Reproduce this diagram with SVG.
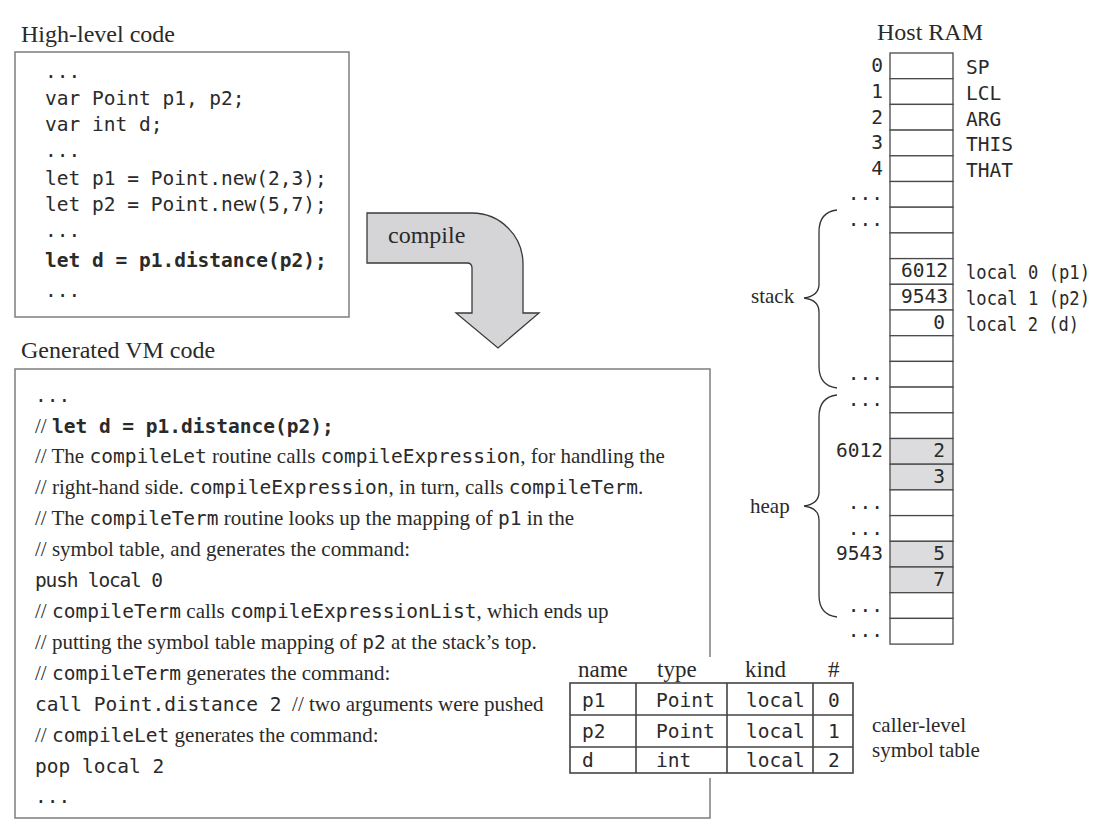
<svg xmlns="http://www.w3.org/2000/svg" width="1112" height="837" viewBox="0 0 1112 837">
<style>
.ser{font-family:"Liberation Serif","Times New Roman",serif;fill:#2a2a2a}
.t24{font-size:24px}
.t21{font-size:21px}
.mono{font-family:"DejaVu Sans Mono","Liberation Mono",monospace;fill:#2a2a2a}
.m19{font-size:19.5px}
.m{font-family:"DejaVu Sans Mono","Liberation Mono",monospace;font-size:19.5px}
.b{font-weight:bold}
.box{fill:#fff;stroke:#858585;stroke-width:1.6}
.cell{fill:#fff;stroke:#4a4a4a;stroke-width:1.3}
.gcell{fill:#dcdcde;stroke:#4a4a4a;stroke-width:1.3}
.brace{fill:none;stroke:#333;stroke-width:1.3}
.tab{fill:none;stroke:#444;stroke-width:1.6}
.r{text-anchor:end}
</style>

<g id="high-level-code">
<text class="ser t24" x="21" y="42">High-level code</text>
<rect class="box" x="15" y="52" width="334" height="265"/>
<g class="mono m19">
<text x="45" y="78">...</text>
<text x="45" y="105">var Point p1, p2;</text>
<text x="45" y="131">var int d;</text>
<text x="45" y="157">...</text>
<text x="45" y="185">let p1 = Point.new(2,3);</text>
<text x="45" y="211">let p2 = Point.new(5,7);</text>
<text x="45" y="237">...</text>
<text x="45" y="267" class="b">let d = p1.distance(p2);</text>
<text x="45" y="297">...</text>
</g>
</g>

<g id="compile-arrow">
<path d="M367 213 H472 A51 51 0 0 1 523 264 V313 H539 L498 348 L456 313 H472 V268 Q472 263 467 263 H367 Z" fill="#d5d5d7" stroke="#3a3a3a" stroke-width="1.3"/>
<text class="ser t24" x="388" y="243">compile</text>
</g>

<g id="vm-code">
<text class="ser t24" x="21" y="358">Generated VM code</text>
<rect class="box" x="15" y="369" width="695" height="449"/>
<text class="mono m19" x="35" y="402">...</text>
<text class="ser t21" x="35" y="433" xml:space="preserve">// <tspan class="m b">let d = p1.distance(p2);</tspan></text>
<text class="ser t21" x="35" y="463" xml:space="preserve">// The <tspan class="m">compileLet</tspan> routine calls <tspan class="m">compileExpression</tspan>, for handling the</text>
<text class="ser t21" x="35" y="494" xml:space="preserve">// right-hand side. <tspan class="m">compileExpression</tspan>, in turn, calls <tspan class="m">compileTerm</tspan>.</text>
<text class="ser t21" x="35" y="525" xml:space="preserve">// The <tspan class="m">compileTerm</tspan> routine looks up the mapping of <tspan class="m">p1</tspan> in the</text>
<text class="ser t21" x="35" y="556" xml:space="preserve">// symbol table, and generates the command:</text>
<text class="mono m19" x="35" y="587" textLength="128" lengthAdjust="spacing">push local 0</text>
<text class="ser t21" x="35" y="618" xml:space="preserve">// <tspan class="m">compileTerm</tspan> calls <tspan class="m">compileExpressionList</tspan>, which ends up</text>
<text class="ser t21" x="35" y="649" xml:space="preserve">// putting the symbol table mapping of <tspan class="m">p2</tspan> at the stack’s top.</text>
<text class="ser t21" x="35" y="680" xml:space="preserve">// <tspan class="m">compileTerm</tspan> generates the command:</text>
<text class="ser t21" x="35" y="711" xml:space="preserve"><tspan class="m">call Point.distance 2</tspan>  // two arguments were pushed</text>
<text class="ser t21" x="35" y="742" xml:space="preserve">// <tspan class="m">compileLet</tspan> generates the command:</text>
<text class="mono m19" x="35" y="773">pop local 2</text>
<text class="mono m19" x="35" y="803">...</text>
</g>

<g id="symbol-table">
<rect x="560" y="657" width="300" height="121" fill="#fff"/>
<g class="ser" style="font-size:23px">
<text x="578" y="677">name</text>
<text x="657" y="677">type</text>
<text x="745" y="677">kind</text>
<text x="828" y="677">#</text>
</g>
<rect class="tab" x="570" y="683" width="283" height="90"/>
<path class="tab" d="M570 715 H853 M570 747 H853 M636 683 V773 M727 683 V773 M813 683 V773"/>
<g class="mono m19">
<text x="582" y="707">p1</text>
<text x="656" y="707">Point</text>
<text x="746" y="707">local</text>
<text x="828" y="707">0</text>
<text x="582" y="738">p2</text>
<text x="656" y="738">Point</text>
<text x="746" y="738">local</text>
<text x="828" y="738">1</text>
<text x="582" y="767">d</text>
<text x="656" y="767">int</text>
<text x="746" y="767">local</text>
<text x="828" y="767">2</text>
</g>
<text class="ser t21" x="872" y="732">caller-level</text>
<text class="ser t21" x="872" y="757">symbol table</text>
</g>

<g id="host-ram">
<text class="ser t24" x="877" y="40">Host RAM</text>
<g id="ram-cells">
<rect class="cell" x="890" y="53" width="63" height="25.7"/>
<rect class="cell" x="890" y="78.7" width="63" height="25.7"/>
<rect class="cell" x="890" y="104.4" width="63" height="25.7"/>
<rect class="cell" x="890" y="130.1" width="63" height="25.7"/>
<rect class="cell" x="890" y="155.8" width="63" height="25.7"/>
<rect class="cell" x="890" y="181.5" width="63" height="25.7"/>
<rect class="cell" x="890" y="207.2" width="63" height="25.7"/>
<rect class="cell" x="890" y="232.9" width="63" height="25.7"/>
<rect class="cell" x="890" y="258.6" width="63" height="25.7"/>
<rect class="cell" x="890" y="284.3" width="63" height="25.7"/>
<rect class="cell" x="890" y="310" width="63" height="25.7"/>
<rect class="cell" x="890" y="335.7" width="63" height="25.7"/>
<rect class="cell" x="890" y="361.4" width="63" height="25.7"/>
<rect class="cell" x="890" y="387.1" width="63" height="25.7"/>
<rect class="cell" x="890" y="412.8" width="63" height="25.7"/>
<rect class="gcell" x="890" y="438.5" width="63" height="25.7"/>
<rect class="gcell" x="890" y="464.2" width="63" height="25.7"/>
<rect class="cell" x="890" y="489.9" width="63" height="25.7"/>
<rect class="cell" x="890" y="515.6" width="63" height="25.7"/>
<rect class="gcell" x="890" y="541.3" width="63" height="25.7"/>
<rect class="gcell" x="890" y="567" width="63" height="25.7"/>
<rect class="cell" x="890" y="592.7" width="63" height="25.7"/>
<rect class="cell" x="890" y="618.4" width="63" height="25.7"/>
</g>
<g class="mono m19">
<text class="r" x="883" y="72">0</text>
<text class="r" x="883" y="98">1</text>
<text class="r" x="883" y="124">2</text>
<text class="r" x="883" y="149">3</text>
<text class="r" x="883" y="175">4</text>
<text class="r" x="883" y="200">...</text>
<text class="r" x="883" y="226">...</text>
<text class="r" x="883" y="380">...</text>
<text class="r" x="883" y="406">...</text>
<text class="r" x="883" y="457">6012</text>
<text class="r" x="883" y="509">...</text>
<text class="r" x="883" y="535">...</text>
<text class="r" x="883" y="560">9543</text>
<text class="r" x="883" y="612">...</text>
<text class="r" x="883" y="637">...</text>
<text class="r" x="948" y="277">6012</text>
<text class="r" x="948" y="303">9543</text>
<text class="r" x="945" y="329">0</text>
<text class="r" x="945" y="457">2</text>
<text class="r" x="945" y="483">3</text>
<text class="r" x="945" y="560">5</text>
<text class="r" x="945" y="586">7</text>
<text x="966" y="74">SP</text>
<text x="966" y="100">LCL</text>
<text x="966" y="126">ARG</text>
<text x="966" y="151">THIS</text>
<text x="966" y="177">THAT</text>
<text x="966" y="279" textLength="124" lengthAdjust="spacingAndGlyphs">local 0 (p1)</text>
<text x="966" y="305" textLength="124" lengthAdjust="spacingAndGlyphs">local 1 (p2)</text>
<text x="966" y="331" textLength="113" lengthAdjust="spacingAndGlyphs">local 2 (d)</text>
</g>
</g>

<g id="stack-brace">
<path class="brace" d="M837 210 Q819 212 819 232 V284 Q819 296 804 298 Q819 300 819 312 V366 Q819 386 837 388"/>
<text class="ser t21" x="751" y="303">stack</text>
</g>

<g id="heap-brace">
<path class="brace" d="M837 395 Q819 397 819 417 V492 Q819 504 804 506 Q819 508 819 520 V595 Q819 615 837 617"/>
<text class="ser t21" x="750" y="513">heap</text>
</g>
</svg>
